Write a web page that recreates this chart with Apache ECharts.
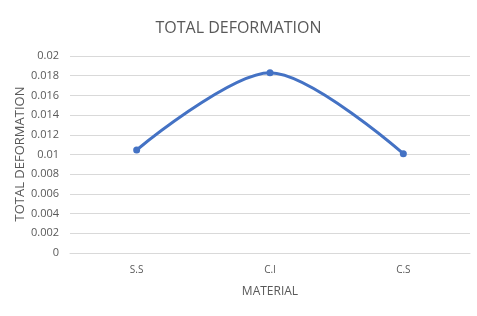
<!DOCTYPE html>
<html>
<head>
<meta charset="utf-8">
<script src="https://cdn.jsdelivr.net/npm/echarts@6/dist/echarts.min.js"></script>
<style>
  html, body { margin: 0; padding: 0; background: #fff; }
  #chart { width: 477px; height: 316px; }
</style>
</head>
<body>
<div id="chart"></div>
<script>
  const materials = ['S.S', 'C.I', 'C.S']
  const deformation = [0.01046, 0.0183, 0.01008]

  const textColor = '#595959'
  const font = "'Open Sans', 'Noto Sans', sans-serif"

  let myChart = echarts.init(document.getElementById('chart'))
  myChart.setOption({
    animation: false,
    title: {
      text: 'TOTAL DEFORMATION',
      left: 'center',
      top: 15,
      textStyle: { color: textColor, fontSize: 16, fontWeight: 'normal', fontFamily: font }
    },
    // y axis title placed by hand, the axis name kept snapping to the edge
    graphic: [
      {
        type: 'text',
        x: 20,
        y: 154,
        rotation: Math.PI / 2,
        style: {
          text: 'TOTAL DEFORMATION',
          fill: textColor,
          fontSize: 13,
          fontFamily: font,
          align: 'center',
          verticalAlign: 'middle'
        }
      }
    ],
    grid: { left: 70, right: 7, top: 56, bottom: 63 },
    xAxis: {
      type: 'category',
      data: materials,
      name: 'MATERIAL',
      nameLocation: 'middle',
      nameGap: 33,
      nameTextStyle: { color: textColor, fontSize: 12, fontFamily: font },
      axisLine: { lineStyle: { color: '#d9d9d9' } },
      axisTick: { show: false },
      axisLabel: { color: textColor, fontSize: 10, fontFamily: font, margin: 12 }
    },
    yAxis: {
      type: 'value',
      min: 0,
      max: 0.02,
      interval: 0.002,
      axisLine: { show: false },
      axisTick: { show: false },
      axisLabel: {
        color: textColor, fontSize: 11, fontFamily: font, margin: 11,
        formatter: v => String(parseFloat(v.toFixed(3)))
      },
      splitLine: { lineStyle: { color: '#d9d9d9' } }
    },
    series: [
      {
        type: 'line',
        data: deformation,
        smooth: 0.3,
        symbol: 'circle',
        symbolSize: 7,
        itemStyle: { color: '#4472C4' },
        lineStyle: { color: '#4472C4', width: 3 }
      }
    ]
  })
</script>
</body>
</html>
